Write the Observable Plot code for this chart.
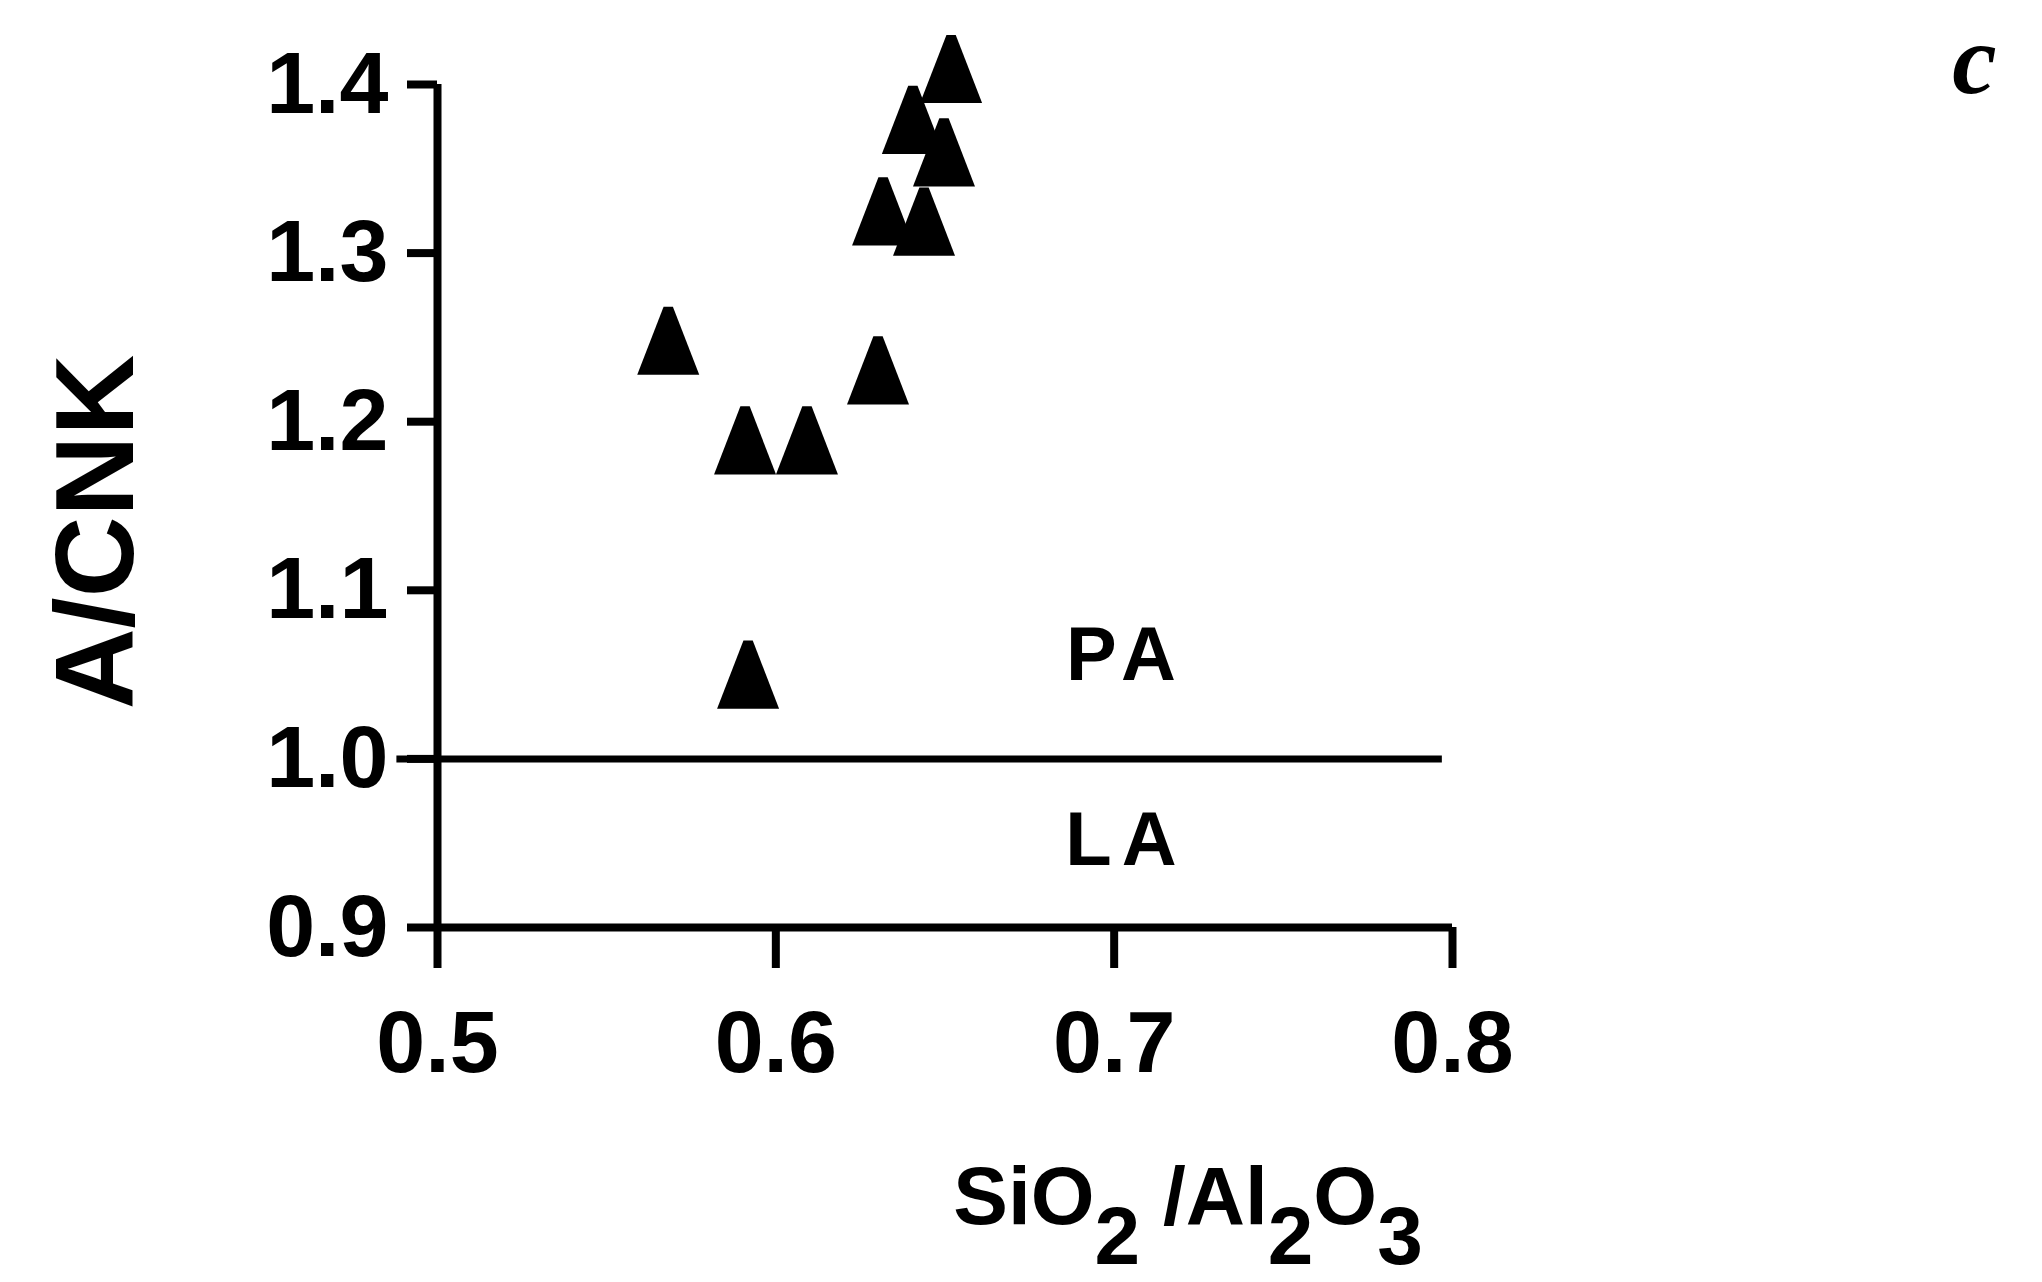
<!DOCTYPE html>
<html><head><meta charset="utf-8">
<script src="https://cdn.jsdelivr.net/npm/d3@7"></script>
<script src="https://cdn.jsdelivr.net/npm/@observablehq/plot@0.6"></script>
<style>
html,body{margin:0;padding:0;background:#fff;}
svg{display:block}
.fieldlbl text{letter-spacing:10px;}
</style>
</head><body><div id="chart"></div>
<script>
// Data
const ratioSiAl = [0.5682, 0.6302, 0.5909, 0.6092, 0.5918, 0.6518, 0.6405, 0.6497, 0.6317, 0.6438];
const aCNK      = [1.248, 1.2304, 1.1889, 1.1889, 1.050, 1.4092, 1.379, 1.3597, 1.3247, 1.3187];
const xTicks = [0.5, 0.6, 0.7, 0.8];
const yTicks = [0.9, 1.0, 1.1, 1.2, 1.3, 1.4];
const boundaryY = [1.0];
const boundaryX = [0.488, 0.797];
const fieldLabels = ["PA", "LA"];
const fieldX = [0.7035, 0.7035];
const fieldY = [1.0613, 0.9516];
const panelLetter = ["c"];
const yLabel = ["A/CNK"];

const points = ratioSiAl.map((x, i) => ({x, y: aCNK[i]}));
const boundary = boundaryY.map(y => ({y, x1: boundaryX[0], x2: boundaryX[1]}));
const fields = fieldLabels.map((t, i) => ({t, x: fieldX[i], y: fieldY[i]}));

const triangle = {
  draw(ctx, size) {
    const r = Math.sqrt(size / Math.PI);
    const h = 2.2 * r;
    ctx.moveTo(-r, h / 2);
    ctx.lineTo(r, h / 2);
    ctx.lineTo(0.15 * r, -h / 2);
    ctx.lineTo(-0.15 * r, -h / 2);
    ctx.closePath();
  }
};

const plot = Plot.plot({
  width: 2042,
  height: 1282,
  marginLeft: 437,
  marginRight: 590,
  marginTop: 84,
  marginBottom: 355,
  style: {fontFamily: "Liberation Sans", fontSize: "72px", color: "black", background: "white"},
  x: {domain: [0.5, 0.8], label: null},
  y: {domain: [0.9, 1.4], label: null},
  marks: [
    Plot.ruleX([0.5], {strokeWidth: 8, stroke: "black"}),
    Plot.ruleY([0.9], {strokeWidth: 8, stroke: "black"}),
    Plot.ruleY(boundary, {y: "y", x1: "x1", x2: "x2", strokeWidth: 7, stroke: "black"}),
    Plot.axisY(yTicks, {tickSize: 30, tickPadding: 19, fontSize: 88, fontWeight: "bold", strokeWidth: 8, tickFormat: d3.format(".1f"), label: null}),
    Plot.axisX(xTicks, {tickSize: 41, tickPadding: 41, fontSize: 88, fontWeight: "bold", strokeWidth: 8, tickFormat: d3.format(".1f"), label: null}),
    Plot.dot(points, {x: "x", y: "y", symbol: triangle, r: 31, fill: "black", stroke: "none"}),
    Plot.text(fields, {x: "x", y: "y", text: "t", fontSize: 76, fontWeight: "bold", textAnchor: "middle", lineAnchor: "middle", className: "fieldlbl"}),
    Plot.text(yLabel, {frameAnchor: "left", dx: -340, dy: 26, rotate: -90, fontSize: 112, fontWeight: "bold", lineAnchor: "middle", textAnchor: "middle"}),
    Plot.text(panelLetter, {frameAnchor: "top-right", dx: 522, dy: -24, fontSize: 100, fontWeight: "bold", fontStyle: "italic", fontFamily: "Liberation Serif", textAnchor: "middle", lineAnchor: "middle"})
  ]
});

const svg = d3.select(plot);
const xl = svg.append("text")
  .attr("x", 1188).attr("y", 1224)
  .attr("text-anchor", "middle")
  .attr("font-size", 82).attr("font-weight", "bold")
  .attr("font-family", "Liberation Sans").attr("fill", "black");
xl.append("tspan").text("SiO");
xl.append("tspan").attr("dy", 40).text("2");
xl.append("tspan").attr("dy", -40).text(" /Al");
xl.append("tspan").attr("dy", 40).text("2");
xl.append("tspan").attr("dy", -40).text("O");
xl.append("tspan").attr("dy", 40).text("3");

document.getElementById("chart").appendChild(plot);
</script>
</body></html>
